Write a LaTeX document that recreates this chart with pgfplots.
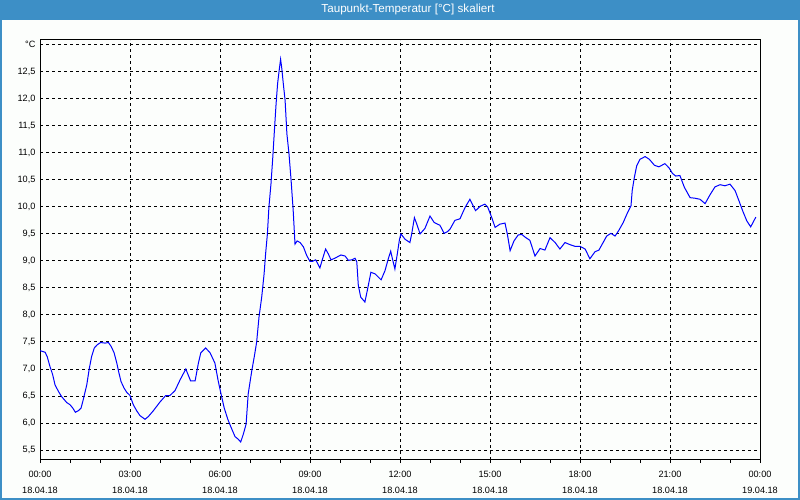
\documentclass[border=0pt]{standalone}
\usepackage{pgfplots}
\pgfplotsset{compat=1.18}
\usepackage{fontspec}
\setmainfont{Liberation Sans}
\definecolor{framebl}{RGB}{61,143,198}
\definecolor{bgc}{RGB}{252,254,252}
\definecolor{curve}{RGB}{0,0,255}
\begin{document}
\begin{tikzpicture}
\path[use as bounding box] (0,0) rectangle (800bp,500bp);
\fill[bgc] (0,0) rectangle (800bp,500bp);
\fill[framebl] (0,480bp) rectangle (800bp,500bp);
\fill[framebl] (0,0) rectangle (2bp,500bp);
\fill[framebl] (798bp,0) rectangle (800bp,500bp);
\fill[framebl] (0,0) rectangle (800bp,2bp);
\node[text=white, font=\fontsize{11.7}{12}\selectfont] at (408bp,490.5bp) {Taupunkt-Temperatur [°C] skaliert};
\begin{axis}[
  at={(40bp,40bp)}, anchor=south west,
  scale only axis, width=720bp, height=420bp,
  xmin=0, xmax=24, ymin=5.317, ymax=13.087,
  axis line style={black, line width=1bp},
  tick align=outside,
  major tick length=3bp, minor tick length=3bp,
  xtick pos=bottom, ytick pos=left,
  xtick={0,3,...,24},
  minor xtick={1,2,4,5,7,8,10,11,13,14,16,17,19,20,22,23},
  xticklabels={{00:00\\18.04.18},{03:00\\18.04.18},{06:00\\18.04.18},{09:00\\18.04.18},{12:00\\18.04.18},{15:00\\18.04.18},{18:00\\18.04.18},{21:00\\18.04.18},{00:00\\19.04.18}},
  xticklabel style={align=center, font=\fontsize{9.2}{16}\selectfont, yshift=-5bp},
  x tick style={black, line width=1bp},
  ytick={5.5,6,6.5,7,7.5,8,8.5,9,9.5,10,10.5,11,11.5,12,12.5,13},
  yticklabels={{5,5},{6,0},{6,5},{7,0},{7,5},{8,0},{8,5},{9,0},{9,5},{10,0},{10,5},{11,0},{11,5},{12,0},{12,5},{°C}},
  yticklabel style={font=\fontsize{9.2}{10}\selectfont, xshift=2bp},
  y tick style={draw=none},
  xmajorgrids, ymajorgrids,
  major grid style={black, line width=1bp, dash pattern=on 3bp off 3bp},
]
\addplot[curve, line width=1bp, mark=none] coordinates {
(0,7.34)(0.17,7.31)(0.24,7.23)(0.33,7.05)(0.42,6.90)(0.5,6.71)(0.61,6.59)(0.72,6.49)(0.89,6.38)(1.0,6.34)(1.09,6.28)(1.18,6.20)(1.28,6.23)(1.37,6.28)(1.44,6.43)(1.56,6.71)(1.64,7.0)(1.72,7.23)(1.81,7.39)(1.91,7.45)(2.02,7.49)(2.17,7.48)(2.28,7.49)(2.37,7.42)(2.47,7.30)(2.56,7.11)(2.63,6.93)(2.7,6.77)(2.8,6.65)(2.89,6.57)(3.0,6.51)
(3.11,6.34)(3.22,6.23)(3.33,6.14)(3.5,6.07)(3.61,6.12)(3.78,6.23)(4.0,6.39)(4.19,6.51)(4.33,6.51)(4.5,6.60)(4.67,6.80)(4.86,7.0)(5.02,6.78)(5.17,6.78)(5.28,7.11)(5.36,7.30)(5.52,7.39)(5.67,7.30)(5.83,7.11)(5.94,6.78)(6.05,6.50)
(6.14,6.28)(6.26,6.07)(6.37,5.92)(6.5,5.75)(6.61,5.70)(6.69,5.65)(6.78,5.80)(6.87,5.98)(6.94,6.54)(7.06,6.97)(7.14,7.22)(7.22,7.49)(7.3,7.96)(7.39,8.33)(7.47,8.76)(7.52,9.13)(7.58,9.50)(7.63,9.99)(7.7,10.43)(7.76,10.92)(7.81,11.38)(7.87,11.91)(7.92,12.28)(7.98,12.56)(8.02,12.73)(8.06,12.56)(8.11,12.28)(8.17,11.97)(8.23,11.35)(8.3,10.98)(8.37,10.49)(8.44,9.93)(8.5,9.31)
(8.57,9.37)(8.67,9.34)(8.78,9.26)(8.89,9.10)(9.0,8.99)(9.08,8.99)(9.19,9.02)(9.33,8.87)(9.42,9.04)(9.52,9.22)(9.61,9.13)(9.7,9.02)(9.83,9.05)(10.03,9.11)(10.17,9.09)(10.28,9.01)(10.39,9.02)(10.5,9.05)(10.56,8.98)(10.61,8.55)(10.69,8.33)(10.83,8.24)(10.92,8.48)(11.03,8.79)(11.17,8.76)(11.37,8.65)(11.5,8.82)(11.61,9.04)(11.69,9.18)(11.76,9.01)(11.83,8.85)(11.91,9.13)(11.98,9.39)(12.03,9.50)(12.17,9.40)(12.33,9.34)(12.39,9.50)(12.48,9.80)(12.56,9.68)(12.67,9.50)(12.83,9.60)(13.0,9.83)(13.14,9.71)(13.33,9.66)
(13.47,9.51)(13.58,9.54)(13.67,9.59)(13.83,9.75)(14.0,9.78)(14.17,9.99)(14.33,10.14)(14.52,9.93)(14.67,10.01)(14.83,10.05)(14.92,10.0)(15.06,9.80)(15.17,9.62)(15.33,9.68)(15.5,9.70)(15.58,9.49)(15.67,9.19)(15.8,9.37)(15.94,9.48)(16.06,9.49)(16.17,9.44)(16.33,9.38)(16.5,9.09)(16.67,9.23)(16.83,9.20)(17.0,9.43)(17.17,9.34)(17.33,9.22)(17.5,9.34)(17.67,9.30)(17.83,9.27)(18.0,9.27)(18.17,9.22)(18.33,9.04)(18.5,9.17)
(18.63,9.20)(18.74,9.31)(18.89,9.46)(19.03,9.51)(19.17,9.46)(19.3,9.57)(19.44,9.71)(19.59,9.90)(19.7,10.02)(19.74,10.30)(19.81,10.54)(19.89,10.76)(20.0,10.88)(20.17,10.93)(20.31,10.88)(20.48,10.77)(20.63,10.74)(20.83,10.80)(20.97,10.72)(21.08,10.62)(21.19,10.57)(21.33,10.58)(21.48,10.36)(21.67,10.17)(21.83,10.16)(22.0,10.14)(22.17,10.06)(22.33,10.22)(22.5,10.37)(22.67,10.41)(22.83,10.39)(23.0,10.42)(23.17,10.30)(23.3,10.11)(23.42,9.93)(23.56,9.74)(23.69,9.63)(23.86,9.81)
};
\end{axis}
\end{tikzpicture}
\end{document}
